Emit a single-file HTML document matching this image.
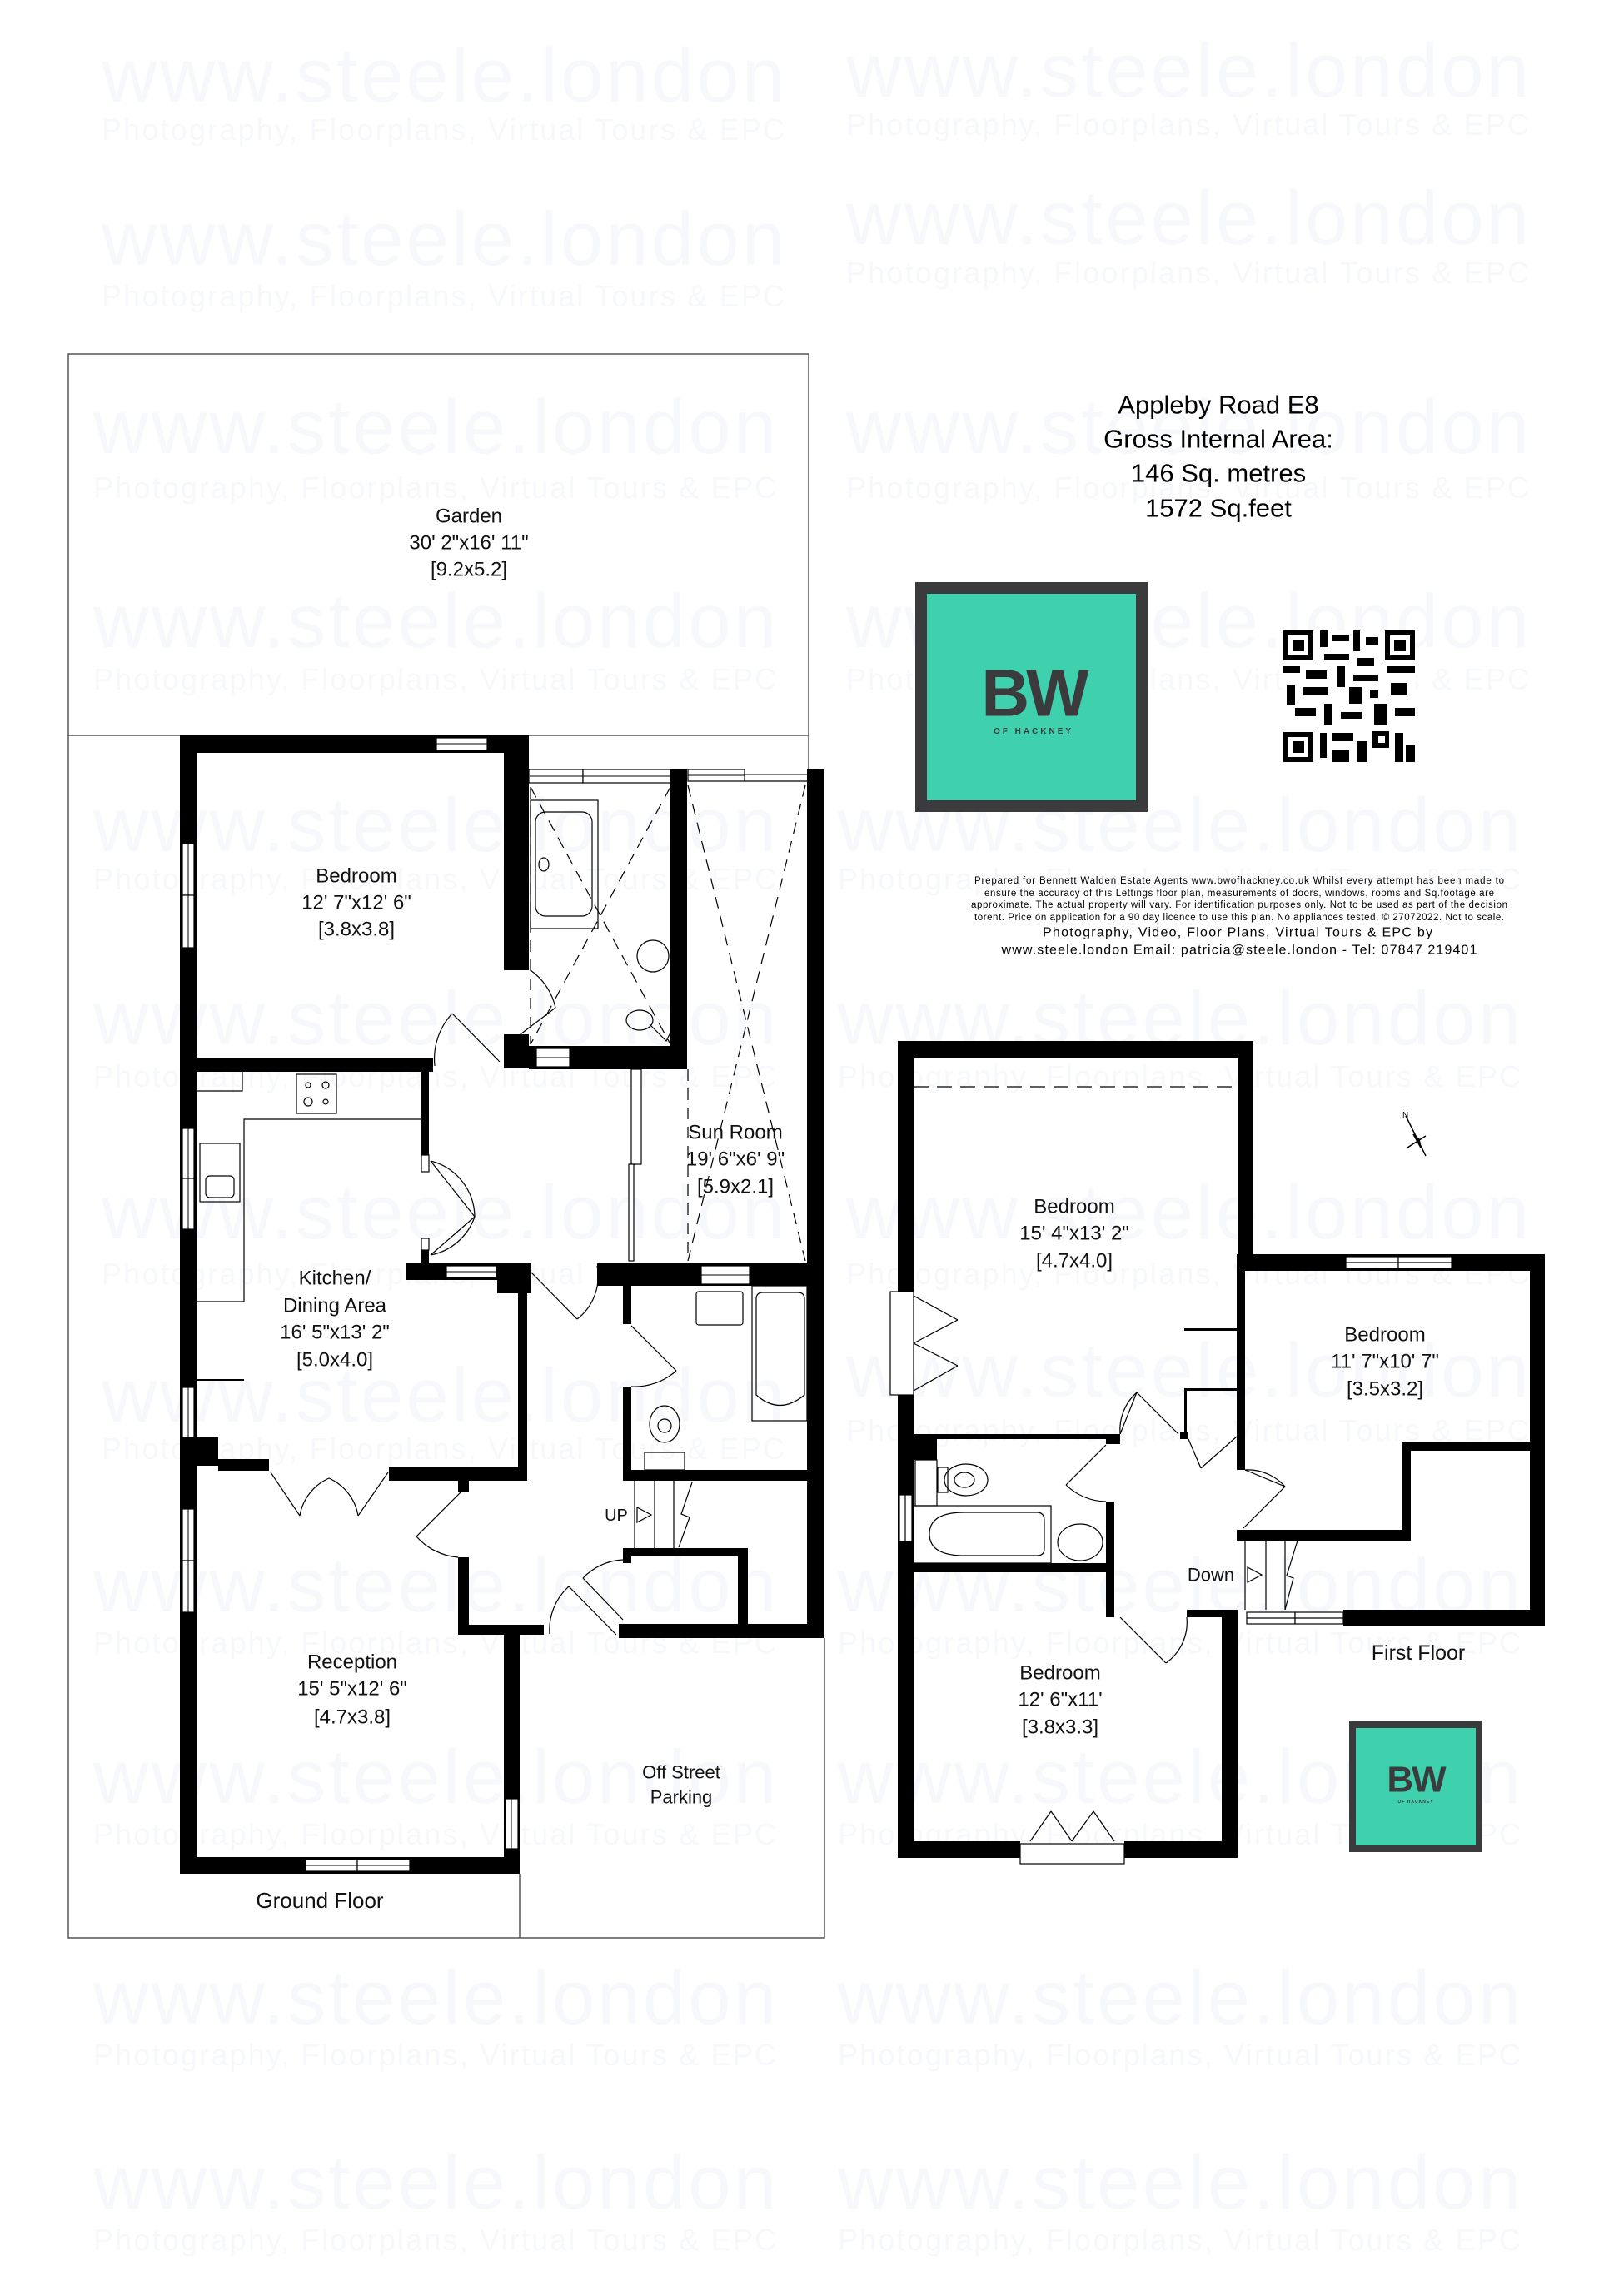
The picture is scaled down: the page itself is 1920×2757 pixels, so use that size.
<!DOCTYPE html>
<html><head><meta charset="utf-8"><style>
html,body{margin:0;padding:0;background:#fff}
svg{display:block}
text{font-family:"Liberation Sans",sans-serif}
</style></head><body>
<svg width="1920" height="2757" viewBox="0 0 1920 2757" xmlns="http://www.w3.org/2000/svg">
<rect width="1920" height="2757" fill="#fff"/>
<!-- watermarks -->
<g fill="#f6f8fb">
<g font-size="92">
<text x="122" y="122" textLength="820">www.steele.london</text><text x="1016" y="116" textLength="820">www.steele.london</text>
<text x="122" y="318" textLength="820">www.steele.london</text><text x="1016" y="293" textLength="820">www.steele.london</text>
<text x="112" y="544" textLength="820">www.steele.london</text><text x="1016" y="544" textLength="820">www.steele.london</text>
<text x="112" y="777" textLength="820">www.steele.london</text><text x="1016" y="777" textLength="820">www.steele.london</text>
<text x="112" y="1022" textLength="820">www.steele.london</text><text x="1006" y="1022" textLength="820">www.steele.london</text>
<text x="112" y="1254" textLength="820">www.steele.london</text><text x="1006" y="1254" textLength="820">www.steele.london</text>
<text x="122" y="1487" textLength="820">www.steele.london</text><text x="1016" y="1487" textLength="820">www.steele.london</text>
<text x="122" y="1707" textLength="820">www.steele.london</text><text x="1016" y="1677" textLength="820">www.steele.london</text>
<text x="112" y="1935" textLength="820">www.steele.london</text><text x="1006" y="1935" textLength="820">www.steele.london</text>
<text x="112" y="2165" textLength="820">www.steele.london</text><text x="1006" y="2165" textLength="820">www.steele.london</text>
<text x="112" y="2430" textLength="820">www.steele.london</text><text x="1006" y="2430" textLength="820">www.steele.london</text>
<text x="112" y="2652" textLength="820">www.steele.london</text><text x="1006" y="2652" textLength="820">www.steele.london</text>
</g>
<g font-size="36">
<text x="122" y="168" textLength="820">Photography, Floorplans, Virtual Tours &amp; EPC</text><text x="1016" y="162" textLength="820">Photography, Floorplans, Virtual Tours &amp; EPC</text>
<text x="122" y="368" textLength="820">Photography, Floorplans, Virtual Tours &amp; EPC</text><text x="1016" y="340" textLength="820">Photography, Floorplans, Virtual Tours &amp; EPC</text>
<text x="112" y="598" textLength="820">Photography, Floorplans, Virtual Tours &amp; EPC</text><text x="1016" y="598" textLength="820">Photography, Floorplans, Virtual Tours &amp; EPC</text>
<text x="112" y="828" textLength="820">Photography, Floorplans, Virtual Tours &amp; EPC</text><text x="1016" y="828" textLength="820">Photography, Floorplans, Virtual Tours &amp; EPC</text>
<text x="112" y="1068" textLength="820">Photography, Floorplans, Virtual Tours &amp; EPC</text><text x="1006" y="1068" textLength="820">Photography, Floorplans, Virtual Tours &amp; EPC</text>
<text x="112" y="1305" textLength="820">Photography, Floorplans, Virtual Tours &amp; EPC</text><text x="1006" y="1305" textLength="820">Photography, Floorplans, Virtual Tours &amp; EPC</text>
<text x="122" y="1542" textLength="820">Photography, Floorplans, Virtual Tours &amp; EPC</text><text x="1016" y="1542" textLength="820">Photography, Floorplans, Virtual Tours &amp; EPC</text>
<text x="122" y="1752" textLength="820">Photography, Floorplans, Virtual Tours &amp; EPC</text><text x="1016" y="1730" textLength="820">Photography, Floorplans, Virtual Tours &amp; EPC</text>
<text x="112" y="1985" textLength="820">Photography, Floorplans, Virtual Tours &amp; EPC</text><text x="1006" y="1985" textLength="820">Photography, Floorplans, Virtual Tours &amp; EPC</text>
<text x="112" y="2215" textLength="820">Photography, Floorplans, Virtual Tours &amp; EPC</text><text x="1006" y="2215" textLength="820">Photography, Floorplans, Virtual Tours &amp; EPC</text>
<text x="112" y="2480" textLength="820">Photography, Floorplans, Virtual Tours &amp; EPC</text><text x="1006" y="2480" textLength="820">Photography, Floorplans, Virtual Tours &amp; EPC</text>
<text x="112" y="2702" textLength="820">Photography, Floorplans, Virtual Tours &amp; EPC</text><text x="1006" y="2702" textLength="820">Photography, Floorplans, Virtual Tours &amp; EPC</text>
</g></g>

<!-- outlines -->
<g fill="none" stroke="#555" stroke-width="1.5">
<rect x="82" y="425" width="889" height="458"/>
<polyline points="82,883 82,2327 990,2327 990,1967"/>
<line x1="624" y1="2250" x2="624" y2="2327"/>
<line x1="971" y1="883" x2="971" y2="924"/>
</g>

<!-- GROUND FLOOR WALLS -->
<g fill="#000">
<rect x="216" y="883" width="419" height="21"/>
<rect x="216" y="883" width="20" height="1367"/>
<rect x="605" y="883" width="30" height="282"/>
<rect x="605" y="1242" width="30" height="41"/>
<rect x="635" y="1256" width="189" height="28"/>
<rect x="805" y="924" width="20" height="360"/>
<rect x="216" y="1271" width="304" height="16"/>
<rect x="505" y="1286" width="10" height="101"/>
<rect x="505" y="1500" width="10" height="20"/>
<rect x="488" y="1517" width="148" height="20"/>
<rect x="597" y="1517" width="40" height="36"/>
<rect x="622" y="1517" width="11" height="261"/>
<rect x="216" y="1726" width="46" height="34"/>
<rect x="262" y="1752" width="61" height="14"/>
<rect x="467" y="1762" width="166" height="16"/>
<rect x="550" y="1778" width="13" height="14"/>
<rect x="550" y="1870" width="13" height="93"/>
<rect x="550" y="1951" width="103" height="12"/>
<rect x="605" y="1951" width="19" height="299"/>
<rect x="216" y="2230" width="408" height="20"/>
<rect x="717" y="1517" width="273" height="27"/>
<rect x="748" y="1517" width="10" height="73"/>
<rect x="748" y="1665" width="10" height="113"/>
<rect x="748" y="1765" width="242" height="13"/>
<rect x="969" y="924" width="21" height="1043"/>
<rect x="748" y="1859" width="150" height="10"/>
<rect x="886" y="1859" width="12" height="91"/>
<rect x="748" y="1859" width="10" height="18"/>
<rect x="743" y="1950" width="247" height="17"/>
</g>
<!-- windows ground -->
<g fill="#fff" stroke="#000" stroke-width="1.2">
<rect x="524" y="886" width="61" height="15"/>
<rect x="219" y="1013" width="14" height="62"/><rect x="219" y="1075" width="14" height="63"/>
<rect x="219" y="1355" width="14" height="60"/><rect x="219" y="1415" width="14" height="61"/>
<rect x="219" y="1666" width="14" height="60"/>
<rect x="219" y="1812" width="14" height="62"/><rect x="219" y="1874" width="14" height="62"/>
<rect x="367" y="2233" width="62" height="14"/><rect x="429" y="2233" width="63" height="14"/>
<rect x="607" y="2160" width="15" height="60"/>
<rect x="635" y="924" width="65" height="16"/><rect x="700" y="924" width="105" height="16"/>
<rect x="826" y="924" width="68" height="14"/>
<rect x="644" y="1259" width="40" height="22"/>
<rect x="536" y="1520" width="60" height="14"/>
<rect x="842" y="1520" width="58" height="22"/>
<rect x="758" y="1284" width="12" height="114"/>
<rect x="755" y="1398" width="6" height="116"/>
<rect x="506" y="1387" width="9" height="20"/>
<rect x="506" y="1487" width="9" height="14"/>
</g>
<g stroke="#000" stroke-width="1">
<line x1="524" y1="893" x2="585" y2="893"/><line x1="636" y1="932" x2="805" y2="932"/><line x1="826" y1="931" x2="894" y2="931"/>
<line x1="644" y1="1270" x2="684" y2="1270"/><line x1="842" y1="1531" x2="900" y2="1531"/><line x1="536" y1="1527" x2="596" y2="1527"/>
<line x1="226" y1="1013" x2="226" y2="1138"/><line x1="226" y1="1355" x2="226" y2="1476"/><line x1="226" y1="1666" x2="226" y2="1726"/><line x1="226" y1="1812" x2="226" y2="1936"/>
<line x1="367" y1="2240" x2="492" y2="2240"/><line x1="614" y1="2160" x2="614" y2="2220"/>
<line x1="894" y1="930" x2="969" y2="930"/>
</g>
<!-- dashed -->
<g stroke="#000" stroke-width="1.2" stroke-dasharray="14,9" fill="none">
<line x1="826" y1="943" x2="967" y2="1514"/><line x1="967" y1="943" x2="826" y2="1514"/>
<line x1="826" y1="1284" x2="826" y2="1514"/>
<line x1="637" y1="945" x2="805" y2="1254"/><line x1="805" y1="945" x2="637" y2="1254"/>
<line x1="637" y1="945" x2="637" y2="1254"/>
</g>
<!-- fixtures & doors ground -->
<g fill="none" stroke="#000" stroke-width="1.2">
<rect x="637" y="961" width="81" height="154"/>
<rect x="643" y="975" width="68" height="125" rx="12"/>
<ellipse cx="653" cy="1038" rx="6" ry="8"/>
<circle cx="784" cy="1148" r="19"/>
<ellipse cx="768" cy="1225" rx="16" ry="12"/>
<path d="M780 1230 L800 1250 L805 1240"/>
<rect x="356" y="1290" width="48" height="47"/>
<circle cx="370" cy="1303" r="3"/><circle cx="391" cy="1303" r="4"/><circle cx="370" cy="1323" r="5"/><circle cx="391" cy="1323" r="3"/>
<polyline points="505,1344 293,1344 293,1563 236,1563"/>
<polyline points="236,1310 291,1310 291,1286"/>
<rect x="240" y="1373" width="48" height="70"/>
<rect x="247" y="1412" width="34" height="26" rx="5"/>
<line x1="236" y1="1657" x2="293" y2="1657" stroke-width="2"/>
<rect x="836" y="1551" width="56" height="40" rx="3"/>
<rect x="903" y="1544" width="66" height="162"/>
<path d="M908 1560 Q908 1552 916 1552 L958 1552 Q966 1552 966 1560 L966 1675 Q936 1700 908 1675 Z"/>
<ellipse cx="798" cy="1710" rx="18" ry="22"/><circle cx="798" cy="1712" r="8"/>
<rect x="774" y="1744" width="48" height="21"/>
<line x1="762" y1="1778" x2="762" y2="1859"/><line x1="786" y1="1778" x2="786" y2="1859"/><line x1="809" y1="1778" x2="809" y2="1859"/>
<polygon points="765,1810 782,1819 765,1828"/>
<path d="M831 1780 L818 1818 L828 1822 L815 1858"/>
<line x1="543" y1="1217" x2="600" y2="1275"/><path d="M543 1217 A80 80 0 0 0 522 1280"/>
<line x1="617" y1="1248" x2="667" y2="1210"/><path d="M637 1165 A75 75 0 0 1 667 1210"/>
<line x1="517" y1="1507" x2="570" y2="1461"/><line x1="517" y1="1394" x2="570" y2="1461"/>
<path d="M517 1394 A70 70 0 0 1 570 1461 A70 70 0 0 1 517 1507"/>
<line x1="637" y1="1527" x2="693" y2="1584"/><path d="M717 1520 A65 65 0 0 1 693 1584"/>
<line x1="758" y1="1592" x2="812" y2="1646"/><path d="M812 1646 A75 75 0 0 1 758 1665"/>
<line x1="325" y1="1768" x2="360" y2="1820"/><line x1="466" y1="1768" x2="430" y2="1820"/>
<path d="M360 1820 A60 60 0 0 1 395 1775 A60 60 0 0 1 430 1820"/>
<line x1="553" y1="1792" x2="500" y2="1845"/><path d="M500 1845 A75 75 0 0 0 550 1870"/>
<line x1="683" y1="1905" x2="740" y2="1963"/><line x1="700" y1="1895" x2="748" y2="1945"/>
<path d="M683 1905 A70 70 0 0 0 660 1962"/><path d="M748 1873 A70 70 0 0 0 700 1895"/>
<line x1="894" y1="938" x2="969" y2="938"/>
</g>
<!-- ground labels -->
<g font-size="24" fill="#111" text-anchor="middle" dominant-baseline="central">
<text x="563" y="620">Garden</text><text x="563" y="652">30' 2"x16' 11"</text><text x="563" y="684">[9.2x5.2]</text>
<text x="428" y="1052">Bedroom</text><text x="428" y="1084">12' 7"x12' 6"</text><text x="428" y="1116">[3.8x3.8]</text>
<text x="883" y="1360">Sun Room</text><text x="883" y="1392">19' 6"x6' 9"</text><text x="883" y="1425">[5.9x2.1]</text>
<text x="402" y="1535">Kitchen/</text><text x="402" y="1568">Dining Area</text><text x="402" y="1600">16' 5"x13' 2"</text><text x="402" y="1633">[5.0x4.0]</text>
<text x="423" y="1996">Reception</text><text x="423" y="2028">15' 5"x12' 6"</text><text x="423" y="2062">[4.7x3.8]</text>
<text x="818" y="2128" font-size="22">Off Street</text><text x="818" y="2158" font-size="22">Parking</text>
<text x="740" y="1820" font-size="20">UP</text>
<text x="384" y="2282" font-size="26">Ground Floor</text>
</g>

<!-- FIRST FLOOR -->
<g fill="#000">
<rect x="1078" y="1250" width="427" height="20"/>
<rect x="1078" y="1250" width="19" height="301"/>
<rect x="1078" y="1675" width="19" height="556"/>
<rect x="1486" y="1250" width="19" height="261"/>
<rect x="1485" y="1506" width="370" height="20"/>
<rect x="1485" y="1506" width="10" height="259"/>
<rect x="1837" y="1506" width="18" height="446"/>
<rect x="1684" y="1731" width="153" height="11"/>
<rect x="1684" y="1731" width="10" height="118"/>
<rect x="1485" y="1837" width="209" height="13"/>
<rect x="1613" y="1933" width="242" height="19"/>
<rect x="1097" y="1722" width="248" height="6"/>
<rect x="1328" y="1722" width="17" height="12"/>
<rect x="1097" y="1727" width="28" height="26"/>
<rect x="1078" y="1877" width="260" height="11"/>
<rect x="1328" y="1803" width="10" height="139"/>
<rect x="1425" y="1933" width="52" height="9"/>
<rect x="1467" y="1933" width="19" height="298"/>
<rect x="1078" y="2211" width="147" height="20"/>
<rect x="1350" y="2211" width="136" height="20"/>
<rect x="1422" y="1595" width="64" height="3"/>
<rect x="1422" y="1667" width="64" height="3"/>
<rect x="1422" y="1667" width="3" height="58"/>
<rect x="1417" y="1720" width="10" height="8"/>
</g>
<g fill="#fff" stroke="#000" stroke-width="1.2">
<rect x="1616" y="1509" width="63" height="14"/><rect x="1679" y="1509" width="64" height="14"/>
<rect x="1497" y="1936" width="58" height="14"/><rect x="1555" y="1936" width="58" height="14"/>
<rect x="1080" y="1795" width="15" height="56"/>
<rect x="1069" y="1551" width="28" height="124"/>
<rect x="1225" y="2214" width="125" height="24"/>
</g>
<g fill="none" stroke="#000" stroke-width="1.2">
<line x1="1616" y1="1516" x2="1743" y2="1516"/><line x1="1497" y1="1943" x2="1613" y2="1943"/><line x1="1087" y1="1795" x2="1087" y2="1851"/>
<line x1="1097" y1="1305" x2="1486" y2="1305" stroke-dasharray="18,10"/>
<line x1="1495" y1="1850" x2="1495" y2="1933"/><line x1="1520" y1="1850" x2="1520" y2="1933"/><line x1="1543" y1="1850" x2="1543" y2="1933"/>
<polygon points="1498,1882 1515,1891 1498,1900"/>
<path d="M1558 1850 L1545 1892 L1553 1895 L1543 1933"/>
<rect x="1099" y="1753" width="26" height="55"/>
<ellipse cx="1160" cy="1777" rx="26" ry="19"/><ellipse cx="1158" cy="1777" rx="12" ry="9"/>
<rect x="1126" y="1762" width="12" height="30"/>
<rect x="1097" y="1808" width="165" height="69"/>
<path d="M1158 1816 L1245 1816 Q1254 1816 1254 1826 L1254 1860 Q1254 1868 1245 1868 L1158 1868 Q1116 1868 1116 1842 Q1116 1816 1158 1816 Z"/>
<ellipse cx="1297" cy="1852" rx="27" ry="22"/>
<line x1="1097" y1="1556" x2="1150" y2="1585"/><line x1="1150" y1="1585" x2="1097" y2="1613"/>
<line x1="1097" y1="1613" x2="1150" y2="1640"/><line x1="1150" y1="1640" x2="1097" y2="1670"/>
<line x1="1328" y1="1735" x2="1280" y2="1783"/><path d="M1280 1783 A70 70 0 0 0 1328 1803"/>
<line x1="1345" y1="1722" x2="1365" y2="1672"/><line x1="1365" y1="1672" x2="1415" y2="1722"/>
<path d="M1345 1722 A60 60 0 0 1 1365 1672"/>
<line x1="1427" y1="1728" x2="1442" y2="1763"/><line x1="1485" y1="1725" x2="1442" y2="1763"/>
<line x1="1495" y1="1765" x2="1543" y2="1785"/><line x1="1543" y1="1785" x2="1493" y2="1835"/>
<path d="M1495 1765 A60 60 0 0 1 1543 1785"/>
<line x1="1345" y1="1942" x2="1400" y2="1997"/><path d="M1400 1997 A60 60 0 0 0 1425 1942"/>
<line x1="1237" y1="2211" x2="1262" y2="2175"/><line x1="1262" y1="2175" x2="1287" y2="2211"/>
<line x1="1338" y1="2211" x2="1313" y2="2175"/><line x1="1313" y1="2175" x2="1287" y2="2211"/>
</g>
<!-- compass -->
<g stroke="#000" stroke-width="1.5" fill="none">
<line x1="1688" y1="1340" x2="1712" y2="1388"/><line x1="1690" y1="1378" x2="1712" y2="1364"/>
<polygon points="1697,1362 1706,1378 1704,1368" fill="#000"/>
</g>
<text x="1684" y="1342" font-size="10">N</text>
<g font-size="24" fill="#111" text-anchor="middle" dominant-baseline="central">
<text x="1290" y="1449">Bedroom</text><text x="1290" y="1481">15' 4"x13' 2"</text><text x="1290" y="1514">[4.7x4.0]</text>
<text x="1663" y="1603">Bedroom</text><text x="1663" y="1635">11' 7"x10' 7"</text><text x="1663" y="1668">[3.5x3.2]</text>
<text x="1273" y="2009">Bedroom</text><text x="1273" y="2041">12' 6"x11'</text><text x="1273" y="2074">[3.8x3.3]</text>
<text x="1454" y="1891" font-size="22">Down</text>
<text x="1703" y="1985" font-size="25">First Floor</text>
</g>

<!-- header info -->
<g font-size="31" fill="#000" text-anchor="middle" dominant-baseline="central">
<text x="1463" y="486">Appleby Road E8</text>
<text x="1463" y="527">Gross Internal Area:</text>
<text x="1463" y="568">146 Sq. metres</text>
<text x="1463" y="610">1572 Sq.feet</text>
</g>
<rect x="1106" y="706" width="265" height="262" fill="#3fd1ae" stroke="#3b3b3d" stroke-width="14"/>
<text x="1241" y="832" font-size="80" font-weight="bold" fill="#3b3b3d" text-anchor="middle" dominant-baseline="central" letter-spacing="-4">BW</text>
<text x="1241" y="881" font-size="10" font-weight="bold" fill="#3b3b3d" text-anchor="middle" letter-spacing="3">OF HACKNEY</text>
<rect x="1624" y="2071" width="152" height="149" fill="#3fd1ae" stroke="#3b3b3d" stroke-width="8"/>
<text x="1700" y="2137" font-size="44" font-weight="bold" fill="#3b3b3d" text-anchor="middle" dominant-baseline="central" letter-spacing="-2">BW</text>
<text x="1700" y="2165" font-size="5" font-weight="bold" fill="#3b3b3d" text-anchor="middle" letter-spacing="1">OF HACKNEY</text>
<g fill="#000">
<rect x="1541" y="757" width="158" height="158" fill="#fff"/>
<rect x="1541" y="757" width="36" height="36"/><rect x="1547" y="763" width="24" height="24" fill="#fff"/><rect x="1552" y="768" width="14" height="14"/>
<rect x="1663" y="757" width="36" height="36"/><rect x="1669" y="763" width="24" height="24" fill="#fff"/><rect x="1674" y="768" width="14" height="14"/>
<rect x="1541" y="879" width="36" height="36"/><rect x="1547" y="885" width="24" height="24" fill="#fff"/><rect x="1552" y="890" width="14" height="14"/>
<rect x="1585" y="757" width="10" height="20"/><rect x="1600" y="762" width="20" height="8"/><rect x="1625" y="757" width="8" height="25"/><rect x="1640" y="765" width="15" height="10"/>
<rect x="1590" y="785" width="30" height="8"/><rect x="1630" y="790" width="20" height="10"/>
<rect x="1541" y="800" width="20" height="8"/><rect x="1568" y="805" width="25" height="10"/><rect x="1605" y="800" width="10" height="25"/><rect x="1625" y="810" width="30" height="8"/><rect x="1665" y="800" width="34" height="8"/>
<rect x="1545" y="822" width="10" height="25"/><rect x="1565" y="825" width="30" height="10"/><rect x="1620" y="825" width="15" height="20"/><rect x="1645" y="828" width="10" height="10"/><rect x="1670" y="820" width="20" height="15"/>
<rect x="1555" y="850" width="25" height="10"/><rect x="1590" y="845" width="10" height="25"/><rect x="1610" y="855" width="25" height="8"/><rect x="1650" y="845" width="15" height="25"/><rect x="1675" y="850" width="24" height="10"/>
<rect x="1585" y="880" width="8" height="30"/><rect x="1600" y="880" width="25" height="10"/><rect x="1630" y="890" width="12" height="25"/><rect x="1648" y="878" width="20" height="20"/><rect x="1655" y="884" width="8" height="8" fill="#fff"/>
<rect x="1675" y="880" width="10" height="35"/><rect x="1600" y="900" width="20" height="15"/><rect x="1688" y="895" width="11" height="20"/>
</g>
<g fill="#000" text-anchor="middle" dominant-baseline="central">
<text x="1488" y="1058" font-size="11.5" textLength="636">Prepared for  Bennett Walden Estate Agents  www.bwofhackney.co.uk   Whilst every attempt has been made to</text>
<text x="1488" y="1073" font-size="11.5" textLength="612">ensure the accuracy of this Lettings floor plan, measurements of doors, windows, rooms and Sq.footage are</text>
<text x="1488" y="1087" font-size="11.5" textLength="644">approximate. The actual property will vary. For identification purposes only. Not to be used as part of the decision</text>
<text x="1488" y="1102" font-size="11.5" textLength="636">torent. Price on application for a 90 day licence to use this plan. No appliances tested. ©  27072022. Not to scale.</text>
<text x="1486" y="1120" font-size="16" textLength="468">Photography,  Video,  Floor Plans,  Virtual Tours  &amp;  EPC  by</text>
<text x="1488" y="1141" font-size="16" textLength="571">www.steele.london Email: patricia@steele.london   -  Tel: 07847 219401</text>
</g>
</svg>
</body></html>
